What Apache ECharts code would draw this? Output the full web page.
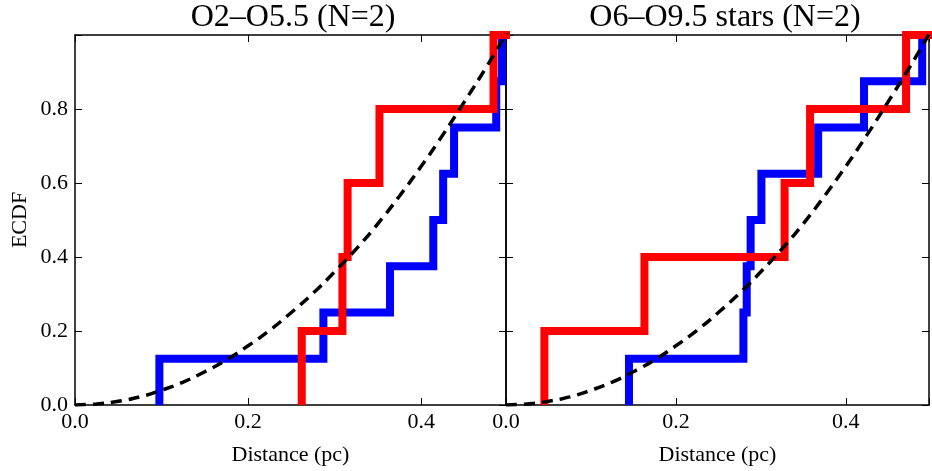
<!DOCTYPE html>
<html>
<head>
<meta charset="utf-8">
<script src="https://cdn.jsdelivr.net/npm/echarts@6/dist/echarts.min.js"></script>
<style>html,body{margin:0;padding:0;background:#fff}#c{width:932px;height:471px}</style>
</head>
<body>
<div id="c"></div>
<script>
// ---- data ----
const titles = ['O2\u2013O5.5 (N=2)', 'O6\u2013O9.5 stars (N=2)'];
const xTickValues = [0.0, 0.2, 0.4];
const yTickValues = [0.0, 0.2, 0.4, 0.6, 0.8];
// sorted distances (pc) where each ECDF steps up
const blueLeft  = [0.0975, 0.287, 0.364, 0.414, 0.4254, 0.438, 0.4867, 0.4933];
const redLeft   = [0.262, 0.309, 0.315, 0.3518, 0.4836];
const blueRight = [0.1448, 0.2795, 0.2834, 0.288, 0.3007, 0.3675, 0.4215, 0.490];
const redRight  = [0.0452, 0.163, 0.328, 0.358, 0.471];
// dashed reference curve
const dashX = [0, 0.025, 0.05, 0.075, 0.1, 0.125, 0.15, 0.175, 0.2, 0.225, 0.25, 0.275, 0.3, 0.325, 0.35, 0.375, 0.4, 0.425, 0.45, 0.475, 0.5];
const dashY = [0, 0.003, 0.01, 0.022, 0.04, 0.062, 0.09, 0.122, 0.16, 0.202, 0.25, 0.302, 0.36, 0.422, 0.49, 0.565, 0.645, 0.73, 0.82, 0.912, 1.01];

const XMAX = 0.498;
const FONT = 'Liberation Serif';

function ecdf(xs) {
  const n = xs.length, pts = [];
  for (let i = 0; i < n; i++) {
    pts.push([xs[i], i / n]);
    pts.push([xs[i], (i + 1) / n]);
  }
  pts.push([XMAX + 0.05, 1]);
  return pts;
}
const dashData = dashX.map((x, i) => [x, dashY[i]]);

const grids = [
  {left: 75, top: 35, width: 431, height: 370},
  {left: 506, top: 35, width: 431, height: 370}
];

function isTick(v, step) { return Math.abs(v / step - Math.round(v / step)) < 1e-6; }

const xAxes = [], yAxes = [];
grids.forEach((g, gi) => {
  ['bottom', 'top'].forEach(pos => {
    xAxes.push({
      type: 'value', gridIndex: gi, position: pos, min: 0, max: XMAX, interval: 0.2,
      name: pos === 'bottom' ? 'Distance (pc)' : '', nameLocation: 'middle', nameGap: 39,
      nameTextStyle: {fontFamily: FONT, fontSize: 22, color: '#000'},
      axisLine: {show: true, onZero: false, lineStyle: {color: '#000', width: 1.5}},
      axisTick: {show: true, inside: true, length: 7, lineStyle: {color: '#000', width: 1}},
      axisLabel: {show: pos === 'bottom', margin: 6, fontFamily: FONT, fontSize: 22, color: '#000',
        formatter: v => isTick(v, 0.2) && v <= 0.41 ? v.toFixed(1) : ''},
      splitLine: {show: false}
    });
  });
  ['left', 'right'].forEach(pos => {
    yAxes.push({
      type: 'value', gridIndex: gi, position: pos, min: 0, max: 1, interval: 0.2,
      name: (gi === 0 && pos === 'left') ? 'ECDF' : '', nameLocation: 'middle', nameGap: 44,
      nameTextStyle: {fontFamily: FONT, fontSize: 22, color: '#000'},
      axisLine: {show: true, onZero: false, lineStyle: {color: '#000', width: 1.5}},
      axisTick: {show: true, inside: true, length: 7, lineStyle: {color: '#000', width: 1}},
      axisLabel: {show: gi === 0 && pos === 'left', margin: 7, fontFamily: FONT, fontSize: 22, color: '#000',
        formatter: v => v < 0.9 ? v.toFixed(1) : ''},
      splitLine: {show: false}
    });
  });
});

function stepSeries(data, color, gi) {
  return {type: 'line', xAxisIndex: gi * 2, yAxisIndex: gi * 2, data: data, showSymbol: false, symbol: 'none',
    animation: false, silent: true,
    lineStyle: {color: color, width: 8, cap: 'butt', join: 'miter'}};
}
function dashSeries(gi) {
  return {type: 'line', xAxisIndex: gi * 2, yAxisIndex: gi * 2, data: dashData, showSymbol: false, symbol: 'none',
    smooth: true, animation: false, silent: true,
    lineStyle: {color: '#000', width: 3.5, type: [11, 7], cap: 'butt'}};
}

const option = {
  backgroundColor: '#fff',
  animation: false,
  title: [
    {text: titles[0], left: 293, top: 2, padding: 0, textAlign: 'center',
      textStyle: {fontFamily: FONT, fontSize: 32, fontWeight: 'normal', color: '#000'}},
    {text: titles[1], left: 725, top: 2, padding: 0, textAlign: 'center',
      textStyle: {fontFamily: FONT, fontSize: 32, fontWeight: 'normal', color: '#000'}}
  ],
  grid: grids,
  xAxis: xAxes,
  yAxis: yAxes,
  series: [
    stepSeries(ecdf(blueLeft), '#0000ff', 0),
    stepSeries(ecdf(redLeft), '#ff0000', 0),
    dashSeries(0),
    stepSeries(ecdf(blueRight), '#0000ff', 1),
    stepSeries(ecdf(redRight), '#ff0000', 1),
    dashSeries(1)
  ]
};
const chart = echarts.init(document.getElementById('c'), null, {renderer: 'canvas'});
chart.setOption(option);
</script>
</body>
</html>
